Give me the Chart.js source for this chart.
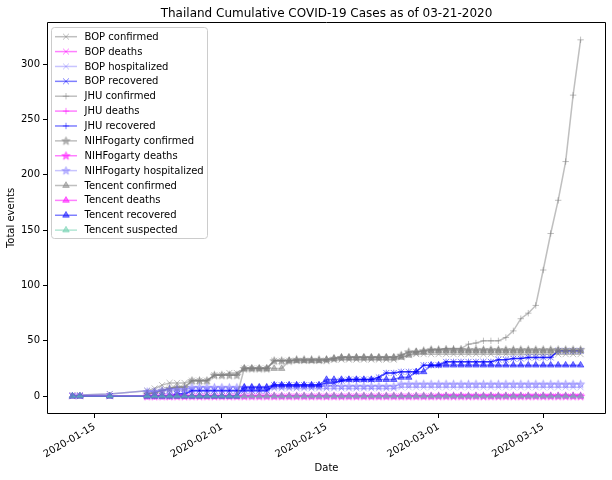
<!DOCTYPE html>
<html><head><meta charset="utf-8">
<script src="https://cdn.jsdelivr.net/npm/chart.js@4/dist/chart.umd.min.js"></script>
<style>html,body{margin:0;padding:0;background:#fff}#wrap{width:612px;height:480px}</style>
</head><body><div id="wrap"><canvas id="c" width="612" height="480"></canvas></div>
<script>
const n = null;
const titleText = "Thailand Cumulative COVID-19 Cases as of 03-21-2020";
const xLabel = "Date";
const yLabel = "Total events";
const xTickDates = ["2020-01-15","2020-02-01","2020-02-15","2020-03-01","2020-03-15"];
const yTicks = [0,50,100,150,200,250,300];

const dates = ["2020-01-12","2020-01-13","2020-01-14","2020-01-15","2020-01-16","2020-01-17","2020-01-18","2020-01-19","2020-01-20","2020-01-21",
"2020-01-22","2020-01-23","2020-01-24","2020-01-25","2020-01-26","2020-01-27","2020-01-28","2020-01-29","2020-01-30","2020-01-31",
"2020-02-01","2020-02-02","2020-02-03","2020-02-04","2020-02-05","2020-02-06","2020-02-07","2020-02-08","2020-02-09","2020-02-10",
"2020-02-11","2020-02-12","2020-02-13","2020-02-14","2020-02-15","2020-02-16","2020-02-17","2020-02-18","2020-02-19","2020-02-20",
"2020-02-21","2020-02-22","2020-02-23","2020-02-24","2020-02-25","2020-02-26","2020-02-27","2020-02-28","2020-02-29",
"2020-03-01","2020-03-02","2020-03-03","2020-03-04","2020-03-05","2020-03-06","2020-03-07","2020-03-08","2020-03-09","2020-03-10",
"2020-03-11","2020-03-12","2020-03-13","2020-03-14","2020-03-15","2020-03-16","2020-03-17","2020-03-18","2020-03-19","2020-03-20"];

const bopConfirmed = [1,1,n,n,n,2,n,n,n,n,
 5,7,10,12,12,12,14,14,14,19,
 19,21,21,25,25,25,25,32,32,32,
 32,32,32,32,32,33,33,33,33,33,
 33,33,33,33,35,37,38,38,38,
 38,38,38,38,38,38,38,38,38,38,
 38,38,38,38,38,38,38,38,38,38];
const bopDeaths = [0,0,n,n,n,0,n,n,n,n,
 0,0,0,0,0,0,0,0,0,0,
 0,0,0,0,0,0,0,0,0,0,
 0,0,0,0,0,0,0,0,0,0,
 0,0,0,0,0,0,0,0,0,
 0,0,0,0,0,0,0,0,0,0,
 0,0,0,0,0,0,0,0,0,0];
const bopHospitalized = [1,1,n,n,n,2,n,n,n,n,
 5,5,5,5,5,5,6,6,6,6,
 6,6,6,6,6,6,6,7,7,7,
 7,7,7,7,7,7,7,7,7,7,
 7,7,7,7,8,8,8,8,8,
 8,8,8,8,8,8,8,8,8,8,
 8,8,8,8,8,8,8,8,8,8];
const bopRecovered = [0,0,n,n,n,0,n,n,n,n,
 0,0,0,0,2,2,5,5,5,5,
 5,5,5,5,5,5,5,10,10,10,
 10,10,10,10,12,12,14,15,15,15,
 15,17,21,21,22,22,22,28,28,
 28,31,31,31,31,31,31,31,33,33,
 34,34,35,35,35,35,41,41,41,41];
const jhuConfirmed = [n,n,n,n,n,n,n,n,n,n,
 2,3,5,7,8,8,14,14,14,19,
 19,19,19,25,25,25,25,32,32,32,
 33,33,33,33,33,34,35,35,35,35,
 35,35,35,35,37,40,40,41,42,
 42,43,43,43,47,48,50,50,50,53,
 59,70,75,82,114,147,177,212,272,322];
const jhuDeaths = [n,n,n,n,n,n,n,n,n,n,
 0,0,0,0,0,0,0,0,0,0,
 0,0,0,0,0,0,0,0,0,0,
 0,0,0,0,0,0,0,0,0,0,
 0,0,0,0,0,0,0,0,0,
 1,1,1,1,1,1,1,1,1,1,
 1,1,1,1,1,1,1,1,1,1];
const jhuRecovered = [n,n,n,n,n,n,n,n,n,n,
 0,0,0,0,2,2,5,5,5,5,
 5,5,5,5,5,5,5,10,10,10,
 10,10,10,10,12,12,14,15,15,15,
 15,17,21,21,22,22,22,28,28,
 28,31,31,31,31,31,31,31,33,33,
 34,34,35,35,35,35,41,41,41,41];
const nihConfirmed = [n,n,n,n,n,n,n,n,n,n,
 2,3,5,7,8,8,14,14,14,19,
 19,19,19,25,25,25,25,32,32,32,
 33,33,33,33,33,34,35,35,35,35,
 35,35,35,35,37,40,40,41,42,
 42,42,42,42,42,42,42,42,42,42,
 42,42,42,42,42,42,42,42,42,42];
const nihDeaths = [n,n,n,n,n,n,n,n,n,n,
 0,0,0,0,0,0,0,0,0,0,
 0,0,0,0,0,0,0,0,0,0,
 0,0,0,0,0,0,0,0,0,0,
 0,0,0,0,0,0,0,0,0,
 0,0,0,0,0,0,0,0,0,0,
 0,0,0,0,0,0,0,0,0,0];
const nihHospitalized = [n,n,n,n,n,n,n,n,n,n,
 4,4,5,6,6,6,8,8,8,8,
 8,8,8,8,8,8,8,9,9,9,
 9,9,9,9,9,9,9,9,9,9,
 9,9,9,9,11,11,11,11,11,
 11,11,11,11,11,11,11,11,11,11,
 11,11,11,11,11,11,11,11,11,11];
const tcConfirmed = [0,0,n,n,n,0,n,n,n,n,
 0,0,0,0,0,0,0,0,0,0,
 0,0,0,25,25,25,25,25,25,32,
 32,32,32,32,33,34,35,35,35,35,
 35,35,35,35,35,37,40,40,41,
 41,41,41,41,41,41,41,41,41,41,
 41,41,41,41,41,41,41,41,41,41];
const tcDeaths = [0,0,n,n,n,0,n,n,n,n,
 0,0,0,0,0,0,0,0,0,0,
 0,0,0,0,0,0,0,0,0,0,
 0,0,0,0,0,0,0,0,0,0,
 0,0,0,0,0,0,0,0,0,
 0,0,0,0,0,0,0,0,0,0,
 0,0,0,0,0,0,0,0,0,0];
const tcRecovered = [0,0,n,n,n,0,n,n,n,n,
 0,0,0,0,0,0,0,0,0,0,
 0,0,0,8,8,8,8,10,10,10,
 10,10,10,10,15,15,15,15,15,15,
 15,15,15,15,17,17,22,22,28,
 28,28,28,28,28,28,28,28,28,28,
 28,28,28,28,28,28,28,28,28,28];
const tcSuspected = [0,0,n,n,n,0,n,n,n,n,
 0,0,0,0,0,0,0,0,0,0,
 0,0,0,0,0,0,0,0,0,0,
 0,0,0,0,0,0,0,0,0,0,
 0,0,0,0,0,0,0,0,0,
 0,0,0,0,0,0,0,0,0,0,
 0,0,0,0,0,0,0,0,0,0];

const COL = {
  conf: 'rgba(128,128,128,0.5)',
  death: 'rgba(255,0,255,0.5)',
  hosp: 'rgba(110,100,255,0.38)',
  recov: 'rgba(0,0,255,0.5)',
  susp: 'rgba(102,205,170,0.5)'
};

const seriesDefs = [
  ['BOP confirmed', bopConfirmed, 'crossRot', COL.conf],
  ['BOP deaths', bopDeaths, 'crossRot', COL.death],
  ['BOP hospitalized', bopHospitalized, 'crossRot', COL.hosp],
  ['BOP recovered', bopRecovered, 'crossRot', COL.recov],
  ['JHU confirmed', jhuConfirmed, 'cross', COL.conf],
  ['JHU deaths', jhuDeaths, 'cross', COL.death],
  ['JHU recovered', jhuRecovered, 'cross', COL.recov],
  ['NIHFogarty confirmed', nihConfirmed, 'star', COL.conf],
  ['NIHFogarty deaths', nihDeaths, 'star', COL.death],
  ['NIHFogarty hospitalized', nihHospitalized, 'star', COL.hosp],
  ['Tencent confirmed', tcConfirmed, 'triangle', COL.conf],
  ['Tencent deaths', tcDeaths, 'triangle', COL.death],
  ['Tencent recovered', tcRecovered, 'triangle', COL.recov],
  ['Tencent suspected', tcSuspected, 'triangle', COL.susp]
];

const BASE = Date.UTC(2020,0,15);
function dayNum(s){ const p = s.split('-').map(Number); return (Date.UTC(p[0],p[1]-1,p[2]) - BASE)/864e5; }
function fmtDay(v){ return new Date(BASE + Math.round(v)*864e5).toISOString().slice(0,10); }

function makeStar(color){
  const c = document.createElement('canvas');
  c.width = 11; c.height = 11;
  const g = c.getContext('2d');
  g.beginPath();
  for (let k=0;k<10;k++){
    const r = (k%2===0) ? 4.3 : 1.8;
    const a = -Math.PI/2 + k*Math.PI/5;
    const px = 5.5 + r*Math.cos(a), py = 5.8 + r*Math.sin(a);
    if (k===0) g.moveTo(px,py); else g.lineTo(px,py);
  }
  g.closePath();
  g.fillStyle = color; g.fill();
  g.strokeStyle = color; g.lineWidth = 1; g.stroke();
  return c;
}
const RAD = {crossRot: 4.2, cross: 3.2, triangle: 3.8, star: 4};

const dayVals = dates.map(dayNum);
let allVals = [];
seriesDefs.forEach(s => s[1].forEach(v => { if (v !== null) allVals.push(v); }));
const xDataMin = dayVals[0], xDataMax = dayVals[dayVals.length-1];
const yDataMin = Math.min(...allVals), yDataMax = Math.max(...allVals);
const xm = 0.05*(xDataMax-xDataMin), ym = 0.05*(yDataMax-yDataMin);

const datasets = seriesDefs.map((s, i) => {
  const pts = [];
  s[1].forEach((v, k) => { if (v !== null) pts.push({x: dayVals[k], y: v}); });
  const ps = s[2] === 'star' ? makeStar(s[3]) : s[2];
  s.push(ps);
  return {
    label: s[0], data: pts,
    borderColor: s[3], backgroundColor: s[3], borderWidth: 1.5,
    pointStyle: ps, pointRadius: RAD[s[2]], pointHoverRadius: RAD[s[2]],
    pointBorderColor: s[3], pointBackgroundColor: s[3], pointBorderWidth: 1,
    fill: false, tension: 0, order: seriesDefs.length - 1 - i
  };
});

function drawMarker(ctx, style, ps, color, x, y){
  ctx.save();
  ctx.strokeStyle = color; ctx.fillStyle = color; ctx.lineWidth = 1;
  const r = RAD[style];
  ctx.beginPath();
  if (style === 'cross'){
    ctx.moveTo(x-r,y); ctx.lineTo(x+r,y); ctx.moveTo(x,y-r); ctx.lineTo(x,y+r); ctx.stroke();
  } else if (style === 'crossRot'){
    const o = Math.cos(Math.PI/4)*r;
    ctx.moveTo(x-o,y-o); ctx.lineTo(x+o,y+o); ctx.moveTo(x-o,y+o); ctx.lineTo(x+o,y-o); ctx.stroke();
  } else if (style === 'triangle'){
    let a = 0;
    ctx.moveTo(x + Math.sin(a)*r, y - Math.cos(a)*r);
    a += 2*Math.PI/3; ctx.lineTo(x + Math.sin(a)*r, y - Math.cos(a)*r);
    a += 2*Math.PI/3; ctx.lineTo(x + Math.sin(a)*r, y - Math.cos(a)*r);
    ctx.closePath(); ctx.fill(); ctx.stroke();
  } else {
    ctx.drawImage(ps, x - ps.width/2, y - ps.height/2);
  }
  ctx.restore();
}

const framePlugin = {
  id: 'frame',
  afterDraw(chart){
    const ctx = chart.ctx, a = chart.chartArea;
    ctx.save();
    ctx.strokeStyle = '#000'; ctx.lineWidth = 1;
    const L = Math.round(a.left)+0.5, T = Math.round(a.top)+0.5, R = Math.round(a.right)-0.5, B = Math.round(a.bottom)-0.5;
    ctx.beginPath(); ctx.moveTo(L,T); ctx.lineTo(R,T); ctx.lineTo(R,B); ctx.lineTo(L,B); ctx.closePath(); ctx.stroke();
    ctx.fillStyle = '#000';
    ctx.font = '12px "DejaVu Sans"';
    ctx.textAlign = 'center'; ctx.textBaseline = 'middle';
    ctx.fillText(titleText, (a.left+a.right)/2, 13.5);
    const lx = 51.5, ly = 27.5, lw = 156, lh = 211, rr = 3;
    ctx.beginPath();
    ctx.moveTo(lx+rr, ly); ctx.lineTo(lx+lw-rr, ly); ctx.quadraticCurveTo(lx+lw, ly, lx+lw, ly+rr);
    ctx.lineTo(lx+lw, ly+lh-rr); ctx.quadraticCurveTo(lx+lw, ly+lh, lx+lw-rr, ly+lh);
    ctx.lineTo(lx+rr, ly+lh); ctx.quadraticCurveTo(lx, ly+lh, lx, ly+lh-rr);
    ctx.lineTo(lx, ly+rr); ctx.quadraticCurveTo(lx, ly, lx+rr, ly); ctx.closePath();
    ctx.fillStyle = 'rgba(255,255,255,0.8)'; ctx.fill();
    ctx.strokeStyle = '#cccccc'; ctx.stroke();
    ctx.font = '10px "DejaVu Sans"'; ctx.textAlign = 'left'; ctx.textBaseline = 'middle';
    seriesDefs.forEach((s, i) => {
      const y = 36.7 + i*14.88;
      ctx.strokeStyle = s[3]; ctx.lineWidth = 1.5;
      ctx.beginPath(); ctx.moveTo(55, y); ctx.lineTo(77, y); ctx.stroke();
      drawMarker(ctx, s[2], s[4], s[3], 66, y);
      ctx.fillStyle = '#000';
      ctx.fillText(s[0], 84.5, y+0.5);
    });
    ctx.restore();
  }
};

const tickFont = {family: 'DejaVu Sans', size: 10};
new Chart(document.getElementById('c'), {
  type: 'line',
  data: {datasets},
  options: {
    responsive: false, animation: false, devicePixelRatio: 1,
    layout: {padding: {top: 22, right: 6, left: 0, bottom: 0}},
    plugins: {legend: {display: false}, tooltip: {enabled: false}, title: {display: false}},
    scales: {
      x: {
        type: 'linear', min: xDataMin - xm, max: xDataMax + xm,
        afterBuildTicks: s => { s.ticks = xTickDates.map(d => ({value: dayNum(d)})); },
        afterFit: s => { s.height = 66; },
        ticks: {autoSkip: false, minRotation: 30, maxRotation: 30, padding: 3, color: '#000', font: tickFont, callback: v => fmtDay(v)},
        grid: {display: true, drawOnChartArea: false, drawTicks: true, tickLength: 4, color: '#000'},
        border: {display: false},
        title: {display: true, text: xLabel, color: '#000', font: tickFont, padding: {top: 0, bottom: 6}}
      },
      y: {
        type: 'linear', min: yDataMin - ym, max: yDataMax + ym,
        afterBuildTicks: s => { s.ticks = yTicks.map(v => ({value: v})); },
        afterFit: s => { s.width = 47; },
        ticks: {padding: 3, color: '#000', font: tickFont},
        grid: {display: true, drawOnChartArea: false, drawTicks: true, tickLength: 4, color: '#000'},
        border: {display: false},
        title: {display: true, text: yLabel, color: '#000', font: tickFont, padding: {top: 5, bottom: 0}}
      }
    }
  },
  plugins: [framePlugin]
});
</script>
</body></html>
